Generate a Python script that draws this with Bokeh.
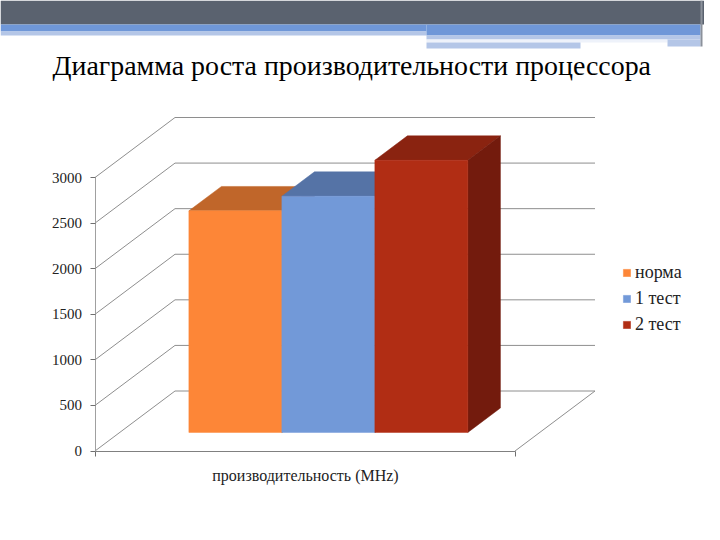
from bokeh.plotting import figure
from bokeh.models import LinearAxis, FixedTicker, Range1d, Legend, LegendItem, BoxAnnotation, Label
from bokeh.embed import file_html
from bokeh.resources import INLINE

TITLE = "Диаграмма роста производительности процессора"
AXIS_TITLE = "производительность (MHz)"
SERIES = ["норма", "1 тест", "2 тест"]
VALUES = [2430, 2590, 2985]
TICKS = [0, 500, 1000, 1500, 2000, 2500, 3000]
FRONT = ["#fd8637", "#7299d8", "#b12d14"]
TOPS = ["#c0662a", "#5573a6", "#8a2310"]
SIDES = ["#8f4d20", "#43597f", "#731b0d"]

W, H = 704, 524
# reference pixel geometry of the oblique chart box
X0_PX, X1_PX, Y0_PX, Y3K_PX = 94.5, 514.5, 450.5, 177.0
PX_PER_X = X1_PX - X0_PX
PX_PER_V = (Y0_PX - Y3K_PX) / 3000.0
DX = 80.0 / PX_PER_X
DY = 60.0 / PX_PER_V


def px(x):
    return (x - X0_PX) / PX_PER_X


def py(y):
    return (Y0_PX - y) / PX_PER_V


p = figure(width=W, height=H, output_backend="svg", toolbar_location=None,
           x_range=Range1d(px(0), px(W)), y_range=Range1d(py(H), py(0)),
           min_border=0, outline_line_color=None, x_axis_type=None, y_axis_type=None)
p.xgrid.visible = False
p.ygrid.visible = False
p.background_fill_color = "white"
p.border_fill_color = "white"


def band(l, r, t, b, c):
    p.add_layout(BoxAnnotation(left=px(l), right=px(r), top=py(t), bottom=py(b),
                               fill_color=c, fill_alpha=1, line_color=None, level="underlay"))


band(0, 704, 0, 24, "#5a626f")
band(0, 426, 24, 31, "#6f97d8")
band(0, 426, 31, 35, "#b4c6e7")
band(426, 700, 24, 35, "#6f97d8")
band(426, 700, 35, 39, "#b4c6e7")
band(426, 667, 39, 42, "#eef2fa")
band(667, 700, 39, 46, "#b4c6e7")
band(426, 580, 42, 48, "#b4c6e7")
band(700, 702, 0, 46, "#8b919b")

# grid on side wall and back wall
xs_grid = [[0, DX, 1 + DX] for _ in TICKS]
ys_grid = [[t, t + DY, t + DY] for t in TICKS]
p.multi_line(xs_grid, ys_grid, line_color="#8e8e8e", line_width=1)
p.line([1, 1 + DX], [0, DY], line_color="#8e8e8e", line_width=1)

# bars
GAP = 0.1645
BAR = 0.2214
D0, D1 = 0.31, 0.717
items = []
for i, (name, v) in enumerate(zip(SERIES, VALUES)):
    x0 = GAP + i * BAR
    x1 = x0 + BAR
    fx0, fx1 = x0 + D0 * DX, x1 + D0 * DX
    bx0, bx1 = x0 + D1 * DX, x1 + D1 * DX
    fy0, fyt = D0 * DY, v + D0 * DY
    by0, byt = D1 * DY, v + D1 * DY
    p.patch([fx0, fx1, bx1, bx0], [fyt, fyt, byt, byt], fill_color=TOPS[i], line_color=TOPS[i], line_width=0.5)
    p.patch([fx1, bx1, bx1, fx1], [fy0, by0, byt, fyt], fill_color=SIDES[i], line_color=SIDES[i], line_width=0.5)
    r = p.patch([fx0, fx1, fx1, fx0], [fy0, fy0, fyt, fyt], fill_color=FRONT[i], line_color=FRONT[i], line_width=0.5)
    items.append(LegendItem(label=name, renderers=[r]))

FONT = "Liberation Serif"
yax = LinearAxis(fixed_location=0, bounds=(0, 3000), ticker=FixedTicker(ticks=TICKS),
                 major_tick_out=5, major_tick_in=0, minor_tick_out=0, minor_tick_in=0,
                 axis_line_color="#a0a0a0", major_tick_line_color="#707070",
                 major_label_text_font=FONT, major_label_text_font_size="15px",
                 major_label_text_color="#222222", major_label_standoff=8)
p.add_layout(yax, "left")
xax = LinearAxis(fixed_location=0, bounds=(0, 1), ticker=FixedTicker(ticks=[0, 1]),
                 major_label_overrides={0: "", 1: ""},
                 major_tick_out=5, major_tick_in=0, minor_tick_out=0, minor_tick_in=0,
                 axis_line_color="#808080", major_tick_line_color="#707070",
                 axis_label=AXIS_TITLE, axis_label_text_font=FONT, axis_label_text_font_size="16px",
                 axis_label_text_font_style="normal", axis_label_text_color="#222222",
                 axis_label_standoff=10, major_label_text_font_size="1px")
p.add_layout(xax, "below")

legend = Legend(items=items, location=(622, 189), orientation="vertical",
                glyph_width=9, glyph_height=9, label_standoff=4, label_height=21, spacing=5,
                padding=0, margin=0, border_line_color=None, background_fill_alpha=0,
                label_text_font=FONT, label_text_font_size="18px", label_text_color="#222222")
p.add_layout(legend, "center")

p.add_layout(Label(x=px(52), y=py(65), text=TITLE, text_font=FONT, text_font_size="27.9px",
                   text_color="#000000", text_baseline="alphabetic"))

open("out.html", "w").write(file_html(p, INLINE))
